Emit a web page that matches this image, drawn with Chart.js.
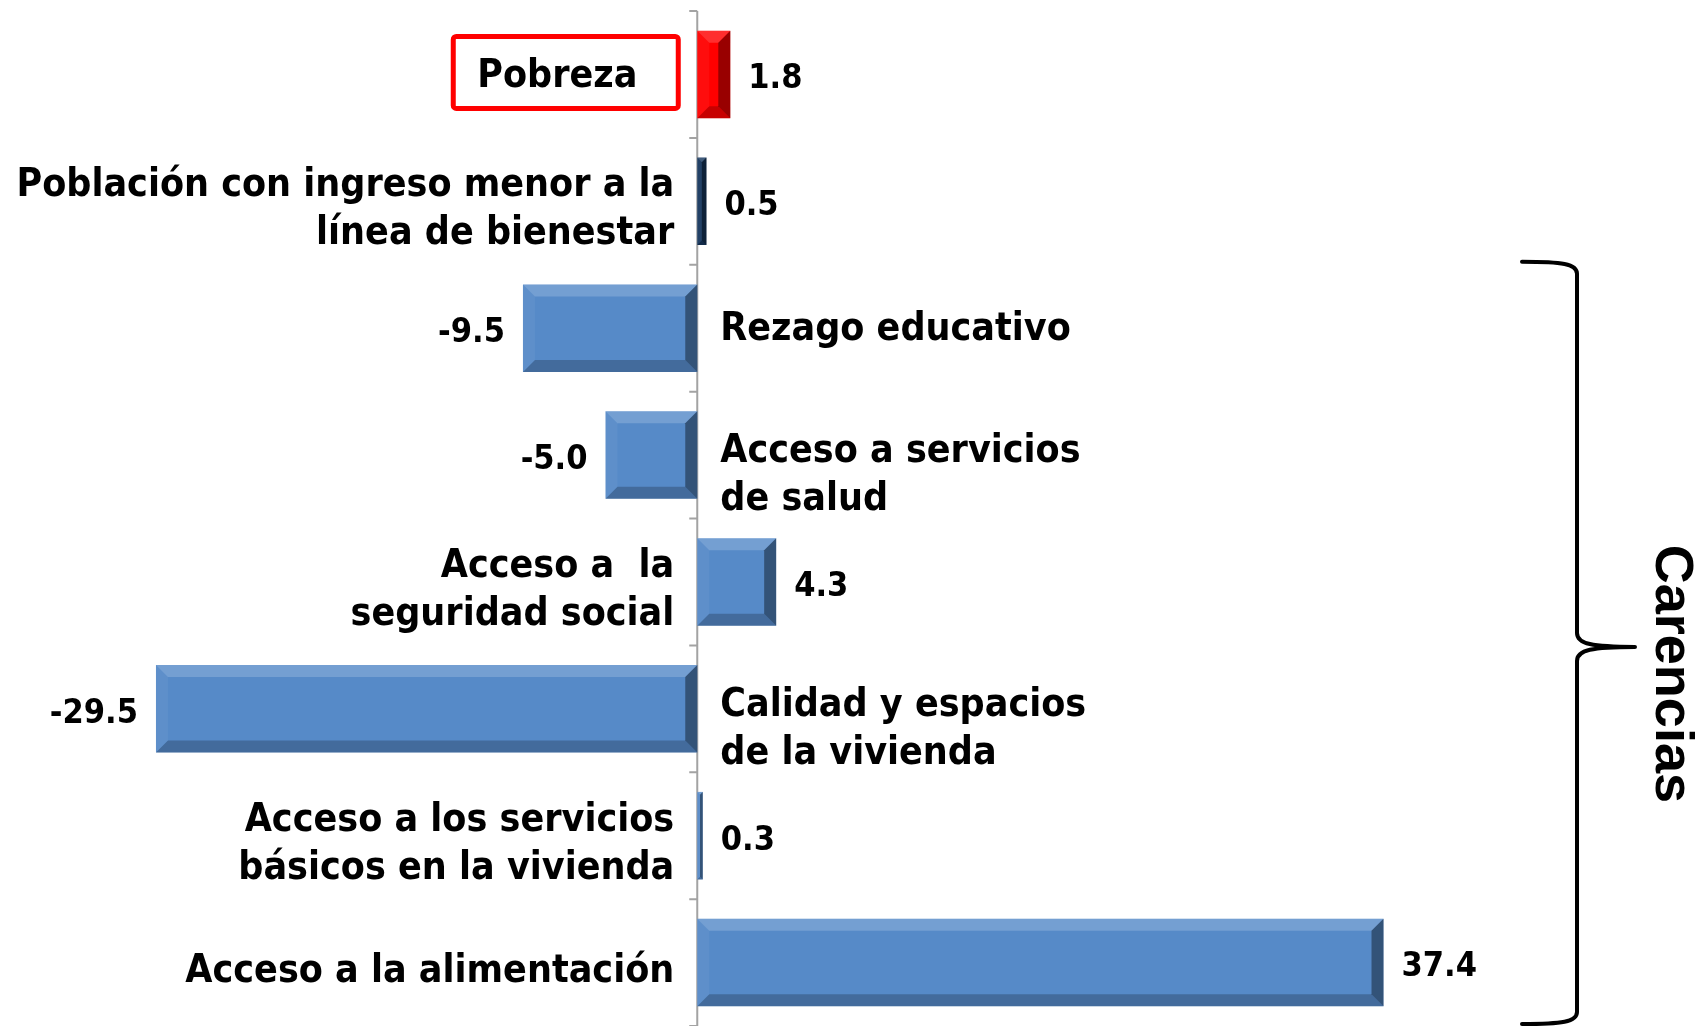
<!DOCTYPE html>
<html>
<head>
<meta charset="utf-8">
<script src="https://cdn.jsdelivr.net/npm/chart.js@4.4.1/dist/chart.umd.min.js"></script>
<style>
  html, body { margin:0; padding:0; background:#fff; overflow:hidden; }
  .chart-wrap { width:1696px; height:1026px; position:relative; }
</style>
</head>
<body>
<div class="chart-wrap"><canvas id="chartCarencias"></canvas></div>
<script>
// ============= DATA =============
const categories = [
  ['Pobreza'],
  ['Población con ingreso menor a la', 'línea de bienestar'],
  ['Rezago educativo'],
  ['Acceso a servicios', 'de salud'],
  ['Acceso a  la', 'seguridad social'],
  ['Calidad y espacios', 'de la vivienda'],
  ['Acceso a los servicios', 'básicos en la vivienda'],
  ['Acceso a la alimentación']
];
const values = [1.8, 0.5, -9.5, -5.0, 4.3, -29.5, 0.3, 37.4];
const valueLabels = ['1.8', '0.5', '-9.5', '-5.0', '4.3', '-29.5', '0.3', '37.4'];
const barColors = ['#ff0000', '#17375e', '#568ac8', '#568ac8', '#568ac8', '#568ac8', '#568ac8', '#568ac8'];
const highlightIndex = 0;      // boxed label
const groupLabel = 'Carencias';
const groupFrom = 2, groupTo = 7;

// ============= HELPERS =============
function labelFont(ctx, size){
  ctx.font = `bold ${size}px "DejaVu Sans", Verdana, sans-serif`;
  try { ctx.fontStretch = 'condensed'; } catch(e) {}
}

function poly(ctx, pts, fill){
  ctx.beginPath();
  ctx.moveTo(pts[0][0], pts[0][1]);
  for (let i = 1; i < pts.length; i++) ctx.lineTo(pts[i][0], pts[i][1]);
  ctx.closePath();
  ctx.fillStyle = fill;
  ctx.fill();
}

// axis line at zero with small category ticks
const zeroAxis = {
  id: 'zeroAxis',
  beforeDatasetsDraw(chart){
    const {ctx, chartArea, scales:{x, y}} = chart;
    const x0 = x.getPixelForValue(0);
    const half = (y.getPixelForValue(1) - y.getPixelForValue(0)) / 2;
    ctx.save();
    ctx.strokeStyle = '#a3a3a3';
    ctx.lineWidth = 2;
    ctx.beginPath();
    ctx.moveTo(x0, chartArea.top);
    ctx.lineTo(x0, chartArea.bottom);
    for (let i = 0; i <= categories.length; i++) {
      const yy = y.getPixelForValue(i) - half;
      ctx.moveTo(x0 - 8, yy);
      ctx.lineTo(x0, yy);
    }
    ctx.stroke();
    ctx.restore();
  }
};

// bevel look on bars
const bevel = {
  id: 'bevel',
  afterDatasetsDraw(chart){
    const ctx = chart.ctx;
    ctx.save();
    chart.getDatasetMeta(0).data.forEach(bar => {
      const {x, y, base, height} = bar.getProps(['x', 'y', 'base', 'height'], true);
      const l = Math.min(x, base), r = Math.max(x, base);
      const t = y - height / 2, b = y + height / 2;
      const e = Math.min(12, (r - l) / 2, height / 2);
      poly(ctx, [[l,t],[r,t],[r-e,t+e],[l+e,t+e]], 'rgba(255,255,255,0.18)');
      poly(ctx, [[l,b],[r,b],[r-e,b-e],[l+e,b-e]], 'rgba(0,0,0,0.22)');
      poly(ctx, [[l,t],[l+e,t+e],[l+e,b-e],[l,b]], 'rgba(255,255,255,0.05)');
      poly(ctx, [[r,t],[r-e,t+e],[r-e,b-e],[r,b]], 'rgba(0,0,0,0.40)');
    });
    ctx.restore();
  }
};

// category labels opposite the bar, value labels at bar end, brace + group label
const labels = {
  id: 'labels',
  afterDraw(chart){
    const {ctx, chartArea, scales:{x, y}} = chart;
    const x0 = x.getPixelForValue(0);
    const lineH = 48;
    ctx.save();
    ctx.fillStyle = '#000';
    ctx.textBaseline = 'middle';

    categories.forEach((lines, i) => {
      const cy = y.getPixelForValue(i) + 2;
      const v = values[i];

      // value label
      labelFont(ctx, 34);
      const end = x.getPixelForValue(v);
      if (v >= 0) { ctx.textAlign = 'left';  ctx.fillText(valueLabels[i], end + 18, cy + 3); }
      else        { ctx.textAlign = 'right'; ctx.fillText(valueLabels[i], end - 18, cy + 3); }

      // category label
      labelFont(ctx, 39);
      const onLeft = v >= 0;
      let shift = 0;
      if (onLeft && i !== highlightIndex) shift = 7;
      if (!onLeft && lines.length > 1) shift = 19;
      const y1 = cy + shift - (lines.length - 1) * lineH / 2;

      if (i === highlightIndex) {
        const bw = 225, bh = 72;
        const bx = x0 - 19 - bw, by = cy - 4 - bh / 2;
        ctx.strokeStyle = '#ff0000';
        ctx.lineWidth = 5;
        ctx.beginPath();
        ctx.roundRect(bx, by, bw, bh, 3);
        ctx.stroke();
        ctx.textAlign = 'left';
        ctx.fillText(lines[0], bx + 24, cy);
        return;
      }
      ctx.textAlign = onLeft ? 'right' : 'left';
      const tx = onLeft ? x0 - 23 : x0 + 23;
      lines.forEach((ln, k) => ctx.fillText(ln, tx, y1 + k * lineH));
    });

    // brace around the "Carencias" group
    const half = (y.getPixelForValue(1) - y.getPixelForValue(0)) / 2;
    const top = y.getPixelForValue(groupFrom) - half - 3;
    const bot = Math.min(y.getPixelForValue(groupTo) + half, chartArea.bottom) - 2;
    const mid = (top + bot) / 2 + 4;
    const bx = 1577, ax = 1522, tip = 1635;
    ctx.strokeStyle = '#000';
    ctx.lineWidth = 4;
    ctx.lineCap = 'round';
    ctx.beginPath();
    ctx.moveTo(ax, top);
    ctx.bezierCurveTo(ax + 40, top, bx, top + 2, bx, top + 12);
    ctx.lineTo(bx, mid - 14);
    ctx.bezierCurveTo(bx, mid - 3, bx + 15, mid, tip, mid);
    ctx.moveTo(tip, mid);
    ctx.bezierCurveTo(bx + 15, mid, bx, mid + 3, bx, mid + 14);
    ctx.lineTo(bx, bot - 12);
    ctx.bezierCurveTo(bx, bot - 2, ax + 40, bot, ax, bot);
    ctx.stroke();

    // rotated group label
    ctx.translate(1671, mid + 27);
    ctx.rotate(Math.PI / 2);
    ctx.font = 'bold 54px "Liberation Sans", Arial, sans-serif';
    ctx.textAlign = 'center';
    ctx.textBaseline = 'middle';
    ctx.fillText(groupLabel, 0, 0);
    ctx.restore();
  }
};

// ============= CHART =============
new Chart(document.getElementById('chartCarencias'), {
  type: 'bar',
  data: {
    labels: categories,
    datasets: [{
      data: values,
      backgroundColor: barColors,
      borderWidth: 0,
      barPercentage: 0.69,
      categoryPercentage: 1
    }]
  },
  options: {
    indexAxis: 'y',
    responsive: true,
    maintainAspectRatio: false,
    animation: false,
    layout: { padding: { top: 11, bottom: 0, left: 0, right: 0 } },
    plugins: { legend: { display: false }, tooltip: { enabled: false } },
    scales: {
      x: { type: 'linear', min: -38, max: 54.43, display: false },
      y: { display: false }
    }
  },
  plugins: [zeroAxis, bevel, labels]
});
</script>
</body>
</html>
